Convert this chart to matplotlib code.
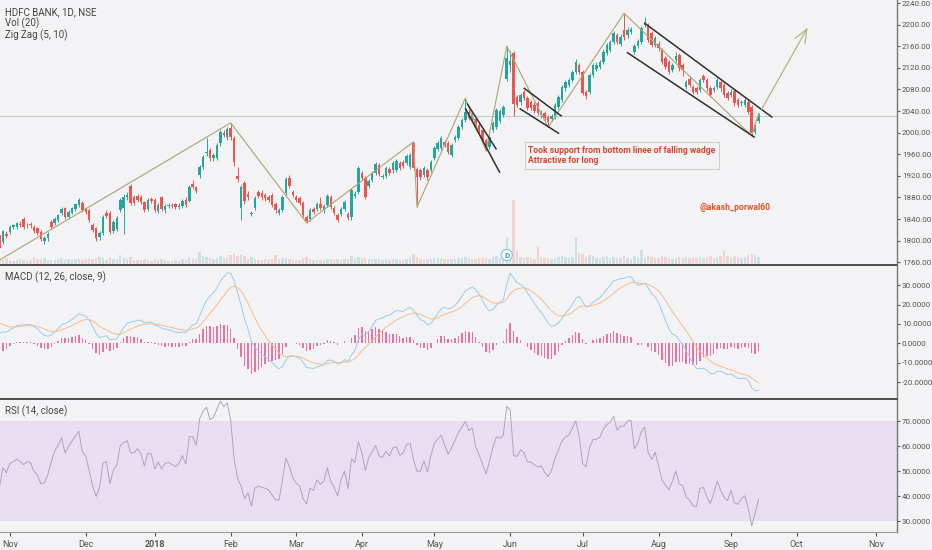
import numpy as np
import pandas as pd
import matplotlib
matplotlib.use('Agg')
import matplotlib.pyplot as plt

# ---------------- data ----------------
first_day = '2017-10-27'
holidays = ['2017-12-25', '2018-01-26', '2018-02-13', '2018-03-02', '2018-03-29',
            '2018-03-30', '2018-05-01', '2018-08-15', '2018-08-22', '2018-09-13']

opens = [1810, 1798, 1813, 1816, 1825, 1825, 1830, 1840, 1828, 1830,
         1825, 1823, 1816, 1800, 1805, 1834, 1833, 1838, 1851, 1860,
         1844, 1852, 1858, 1866, 1870, 1860, 1856, 1829, 1823, 1807,
         1814, 1851, 1851, 1818, 1822, 1857, 1860, 1880, 1901, 1881,
         1883, 1881, 1871, 1859, 1877, 1876, 1855, 1880, 1856, 1864,
         1866, 1867, 1863, 1864, 1876, 1874, 1905, 1899, 1921, 1936,
         1962, 1968, 1953, 1953, 1980, 2000, 1991, 2008, 1990, 1919,
         1860, 1906, 1886, 1849, 1860, 1890, 1888, 1884, 1880, 1885,
         1868, 1851, 1857, 1888, 1916, 1890, 1880, 1878, 1870, 1843,
         1840, 1858, 1859, 1868, 1856, 1866, 1880, 1860, 1847, 1849,
         1858, 1849, 1843, 1882, 1890, 1925, 1916, 1901, 1913, 1925,
         1940, 1918, 1920, 1932, 1930, 1931, 1944, 1946, 1944, 1936,
         1981, 1933, 1930, 1921, 1930, 1931, 1953, 1970, 1971, 1983,
         1981, 1959, 1986, 1990, 2010, 2023, 2038, 2027, 2025, 2014,
         2005, 1986, 1973, 2005, 2010, 2022, 2033, 2100, 2125, 2147,
         2066, 2056, 2075, 2064, 2056, 2052, 2054, 2032, 2036, 2029,
         2025, 2030, 2047, 2060, 2082, 2088, 2097, 2112, 2125, 2112,
         2075, 2076, 2107, 2118, 2122, 2131, 2147, 2153, 2168, 2181,
         2165, 2190, 2180, 2187, 2150, 2160, 2168, 2200, 2199, 2184,
         2162, 2165, 2153, 2138, 2131, 2116, 2134, 2144, 2125, 2085,
         2100, 2085, 2082, 2079, 2104, 2097, 2082, 2079, 2085, 2094,
         2088, 2073, 2070, 2077, 2060, 2054, 2051, 2057, 2048, 2002,
         2022]
closes = [1787, 1817, 1809, 1825, 1828, 1832, 1829, 1825, 1829, 1828,
          1818, 1814, 1803, 1804, 1812, 1826, 1840, 1847, 1858, 1844,
          1853, 1860, 1867, 1875, 1857, 1853, 1838, 1820, 1805, 1814,
          1844, 1846, 1816, 1835, 1842, 1875, 1880, 1884, 1870, 1870,
          1876, 1871, 1857, 1875, 1874, 1857, 1866, 1858, 1865, 1866,
          1864, 1862, 1865, 1873, 1866, 1899, 1899, 1892, 1936, 1954,
          1964, 1953, 1958, 1977, 2001, 1996, 2007, 1991, 1945, 1914,
          1899, 1873, 1881, 1851, 1879, 1882, 1880, 1878, 1875, 1866,
          1857, 1857, 1881, 1914, 1902, 1884, 1875, 1870, 1847, 1837,
          1857, 1853, 1867, 1860, 1864, 1882, 1862, 1852, 1838, 1859,
          1871, 1842, 1893, 1887, 1934, 1916, 1881, 1910, 1925, 1942,
          1923, 1920, 1934, 1926, 1944, 1947, 1934, 1938, 1956, 1958,
          1935, 1917, 1917, 1934, 1917, 1945, 1971, 1981, 1990, 1977,
          1964, 1977, 1992, 2010, 2023, 2038, 2027, 2033, 2010, 1999,
          1986, 1971, 1992, 2018, 2042, 2040, 2047, 2138, 2133, 2053,
          2051, 2069, 2064, 2045, 2045, 2040, 2036, 2038, 2027, 2020,
          2030, 2051, 2066, 2084, 2093, 2097, 2112, 2130, 2112, 2073,
          2068, 2107, 2125, 2126, 2131, 2150, 2162, 2168, 2184, 2168,
          2178, 2178, 2190, 2191, 2160, 2170, 2194, 2204, 2172, 2162,
          2175, 2156, 2131, 2122, 2113, 2125, 2141, 2119, 2116, 2094,
          2088, 2076, 2075, 2097, 2098, 2082, 2070, 2082, 2097, 2082,
          2070, 2064, 2076, 2054, 2051, 2057, 2060, 2039, 1999, 2014,
          2030]
highs = [1815, 1820, 1818, 1828, 1831, 1835, 1836, 1844, 1833, 1834,
         1828, 1826, 1819, 1808, 1816, 1838, 1843, 1850, 1862, 1863,
         1856, 1863, 1870, 1879, 1874, 1863, 1859, 1832, 1826, 1818,
         1847, 1856, 1855, 1839, 1846, 1879, 1886, 1890, 1905, 1885,
         1887, 1884, 1874, 1879, 1881, 1879, 1869, 1883, 1868, 1870,
         1870, 1870, 1869, 1877, 1880, 1903, 1912, 1902, 1940, 1958,
         1990, 1972, 1962, 1981, 2005, 2004, 2011, 2018, 1993, 1936,
         1903, 1910, 1891, 1855, 1883, 1894, 1893, 1888, 1884, 1889,
         1872, 1861, 1885, 1918, 1922, 1894, 1884, 1882, 1874, 1847,
         1861, 1862, 1871, 1880, 1868, 1886, 1884, 1864, 1851, 1863,
         1875, 1853, 1897, 1891, 1938, 1929, 1920, 1914, 1929, 1946,
         1944, 1924, 1938, 1936, 1948, 1951, 1948, 1950, 1960, 1962,
         1983, 1937, 1934, 1938, 1934, 1949, 1975, 1985, 1994, 1987,
         1985, 1981, 1996, 2014, 2027, 2064, 2044, 2037, 2029, 2018,
         2009, 1990, 1996, 2022, 2046, 2044, 2051, 2160, 2152, 2152,
         2070, 2073, 2079, 2068, 2060, 2056, 2058, 2042, 2040, 2033,
         2034, 2055, 2070, 2088, 2097, 2101, 2116, 2136, 2129, 2116,
         2079, 2111, 2129, 2130, 2135, 2154, 2166, 2172, 2188, 2185,
         2182, 2221, 2195, 2196, 2164, 2174, 2198, 2215, 2203, 2188,
         2179, 2169, 2157, 2142, 2135, 2129, 2150, 2148, 2129, 2098,
         2104, 2089, 2086, 2101, 2108, 2101, 2086, 2086, 2101, 2098,
         2092, 2077, 2080, 2081, 2064, 2061, 2064, 2061, 2052, 2018,
         2036]
lows = [1780, 1794, 1805, 1812, 1822, 1821, 1825, 1822, 1824, 1823,
        1815, 1810, 1800, 1794, 1800, 1822, 1829, 1835, 1848, 1840,
        1840, 1849, 1855, 1862, 1853, 1849, 1835, 1816, 1800, 1802,
        1811, 1842, 1812, 1814, 1818, 1853, 1812, 1876, 1866, 1866,
        1872, 1867, 1853, 1855, 1870, 1853, 1851, 1855, 1852, 1860,
        1860, 1858, 1859, 1861, 1862, 1871, 1895, 1888, 1916, 1932,
        1956, 1948, 1948, 1949, 1976, 1991, 1987, 1986, 1938, 1909,
        1838, 1868, 1876, 1845, 1856, 1878, 1876, 1874, 1871, 1862,
        1852, 1847, 1853, 1884, 1898, 1880, 1871, 1866, 1843, 1833,
        1836, 1849, 1855, 1856, 1852, 1862, 1858, 1848, 1834, 1845,
        1854, 1838, 1839, 1878, 1886, 1912, 1877, 1897, 1909, 1921,
        1919, 1914, 1916, 1922, 1926, 1927, 1930, 1934, 1940, 1932,
        1931, 1862, 1913, 1917, 1913, 1927, 1949, 1966, 1967, 1973,
        1960, 1955, 1982, 1986, 2006, 2019, 2023, 2023, 2006, 1995,
        1982, 1966, 1969, 2001, 2006, 2018, 2029, 2096, 2112, 2030,
        2047, 2052, 2060, 2041, 2041, 2036, 2032, 2028, 2023, 2010,
        2021, 2026, 2043, 2056, 2078, 2084, 2093, 2108, 2108, 2069,
        2062, 2072, 2103, 2114, 2118, 2127, 2143, 2149, 2164, 2164,
        2161, 2172, 2176, 2183, 2146, 2156, 2164, 2196, 2168, 2158,
        2158, 2152, 2127, 2118, 2109, 2112, 2130, 2115, 2105, 2081,
        2084, 2072, 2071, 2075, 2094, 2078, 2066, 2075, 2081, 2078,
        2066, 2060, 2066, 2050, 2047, 2050, 2047, 2035, 1994, 1998,
        2018]
# volume, million shares
volumes = [2.4, 2.0, 2.8, 2.2, 1.6, 2.0, 2.6, 2.1, 1.7, 2.0,
           3.4, 2.3, 2.6, 3.0, 2.1, 1.9, 2.2, 2.5, 2.9, 2.0,
           2.3, 1.8, 2.6, 2.4, 2.0, 2.7, 2.9, 2.5, 3.1, 3.6,
           3.2, 2.2, 2.8, 2.4, 2.6, 4.5, 3.0, 2.4, 3.3, 2.2,
           1.9, 2.1, 2.6, 2.0, 1.7, 2.3, 2.0, 2.4, 1.8, 1.6,
           1.5, 1.9, 1.7, 2.4, 2.2, 3.4, 2.9, 2.6, 6.0, 4.2,
           3.6, 2.8, 2.5, 3.0, 3.9, 2.9, 3.1, 4.4, 5.2, 4.0,
           4.6, 3.8, 2.5, 3.4, 2.7, 2.2, 2.0, 2.3, 2.1, 2.6,
           4.6, 2.4, 2.8, 3.1, 2.5, 2.2, 2.0, 2.1, 2.9, 3.3,
           2.7, 2.0, 2.2, 1.9, 2.1, 2.6, 2.3, 2.0, 2.4, 2.2,
           2.5, 2.3, 4.1, 2.8, 3.6, 2.9, 3.2, 2.5, 2.4, 2.7,
           2.3, 2.1, 2.4, 2.0, 2.6, 2.3, 2.1, 2.2, 2.5, 3.0,
           5.0, 3.4, 2.6, 2.2, 2.4, 2.6, 3.1, 2.8, 2.9, 2.3,
           2.6, 2.4, 2.7, 3.0, 3.2, 3.6, 2.8, 2.4, 2.6, 2.9,
           3.1, 3.0, 2.6, 3.3, 3.8, 3.2, 4.0, 13.5, 5.0, 32.0,
           6.5, 3.6, 3.0, 3.4, 2.9, 2.7, 8.5, 3.0, 2.8, 3.1,
           2.6, 3.2, 3.5, 4.0, 3.6, 3.0, 3.4, 13.0, 5.5, 4.8,
           3.6, 4.4, 3.8, 3.0, 2.8, 3.5, 3.9, 3.2, 3.4, 3.0,
           2.8, 4.2, 3.1, 2.6, 4.0, 3.3, 7.0, 3.5, 4.1, 3.6,
           3.2, 3.0, 3.8, 3.4, 3.1, 2.7, 2.9, 3.6, 3.0, 3.3,
           2.8, 2.9, 3.2, 3.5, 3.0, 3.3, 3.9, 3.1, 3.4, 4.2,
           7.0, 3.8, 3.3, 4.1, 3.6, 3.0, 3.4, 4.4, 5.0, 4.6,
           3.5]

# zig zag (5, 10) pivots: bar number, price
zz_bars = [0, 67, 89, 120, 121, 135, 141, 147, 159, 181, 218, 220]
zz_prices = [1764, 2018, 1833, 1983, 1862, 2064, 1966, 2160, 2010, 2221, 1994, 2036]

# hand drawn lines: (bar, price) -> (bar, price)
wedge_lines = [((135.6, 2053), (143.9, 1970)),
               ((135.1, 2044), (144.9, 1927)),
               ((152.1, 2082), (162.8, 2031)),
               ((150.9, 2044), (162.0, 1999)),
               ((187.1, 2202), (223.8, 2029)),
               ((182.0, 2148), (218.7, 1992))]
target_arrow = ((220.4, 2038), (234.6, 2199))
dividend_day = '2018-05-31'

# indicator state at the left edge of the chart
ema_fast_start, ema_slow_start, signal_start = 1805.0, 1798.0, 12.0
rsi_prev_close, rsi_gain_start, rsi_loss_start = 1800.0, 7.0, 8.0

note_text = 'Took support from bottom linee of falling wadge\nAttractive for long'
signature = '@akash_porwal60'

# ---------------- helpers ----------------
def ema(values, n, start):
    k = 2.0 / (n + 1)
    out, prev = [], start
    for v in values:
        prev = prev + k * (v - prev)
        out.append(prev)
    return np.array(out)

def rsi(values, n, prev_close, gain, loss):
    out = []
    for v in values:
        ch = v - prev_close
        prev_close = v
        gain = (gain * (n - 1) + max(ch, 0)) / n
        loss = (loss * (n - 1) + max(-ch, 0)) / n
        out.append(100 - 100 / (1 + gain / loss))
    return np.array(out)

# ---------------- figure ----------------
plt.rcParams['font.family'] = ['Liberation Sans Narrow', 'Roboto', 'DejaVu Sans']
BG = '#f3f3f5'
UP, DOWN = '#26a69a', '#ef5350'
TXT = '#555555'

o = np.array(opens, float)
c = np.array(closes, float)
h = np.array(highs, float)
l = np.array(lows, float)
v = np.array(volumes, float)
x = np.arange(len(c))
up = c >= o
col = np.where(up, UP, DOWN)

days = pd.bdate_range(first_day, '2018-12-31')
days = days[~days.isin(pd.to_datetime(holidays))]

fig = plt.figure(figsize=(9.32, 5.5), dpi=100, facecolor=BG)
W = 897 / 932
ax = fig.add_axes([0, 286 / 550, W, 264 / 550], facecolor=BG)
axm = fig.add_axes([0, 152 / 550, W, 133 / 550], facecolor=BG, sharex=ax)
axr = fig.add_axes([0, 18 / 550, W, 133 / 550], facecolor=BG, sharex=ax)

# volume underlay
axv = ax.twinx()
axv.set_zorder(0)
ax.set_zorder(1)
ax.patch.set_visible(False)
axv.set_facecolor(BG)
axv.bar(x, v, width=0.7, color=col, alpha=0.2, linewidth=0)
axv.set_ylim(0, 132)
axv.set_yticks([])
for s in axv.spines.values():
    s.set_visible(False)

# candles
ax.vlines(x, l, h, colors=col, linewidth=0.7, zorder=3)
body = np.maximum(np.abs(c - o), 0.9)
ax.bar(x, body, bottom=np.minimum(o, c), width=0.72, color=col, linewidth=0, zorder=4)

ax.axhline(c[-1], color='#cbcbcb', linewidth=0.8, zorder=1)
ax.plot(zz_bars, zz_prices, color='#aea879', linewidth=0.85, zorder=5)
for (x0, y0), (x1, y1) in wedge_lines:
    ax.plot([x0, x1], [y0, y1], color='#2f2f2f', linewidth=1.1, zorder=6)
(ax0, ay0), (ax1, ay1) = target_arrow
ax.annotate('', xy=(ax1, ay1), xytext=(ax0, ay0),
            arrowprops=dict(arrowstyle='->,head_length=1.0,head_width=0.4',
                            color='#a3bb74', linewidth=0.85), zorder=6)

ax.text(153.2, 1976, note_text, color='#d9462d', fontsize=6.2, fontweight='bold',
        va='top', ha='left', linespacing=1.25, zorder=7,
        bbox=dict(boxstyle='square,pad=0.4', fc=BG, ec='#cfcfcf', lw=0.8))
ax.text(213.2, 1862, signature, color='#e0552e', fontsize=6.2, fontweight='bold',
        va='center', ha='center', zorder=7)

div_i = int(np.flatnonzero(days == pd.Timestamp(dividend_day))[0])
ax.annotate('D', xy=(div_i, 0.034), xycoords=('data', 'axes fraction'),
            ha='center', va='center', fontsize=6, fontweight='bold', color='#3b8fd9',
            bbox=dict(boxstyle='circle,pad=0.25', fc='#fafcff', ec='#8cc2ee', lw=0.9),
            zorder=8)

hdr = ['HDFC BANK, 1D, NSE', 'Vol (20)', 'Zig Zag (5, 10)']
for i, t in enumerate(hdr):
    ax.text(0.006, 1 - (12 + 11.5 * i) / 264, t, transform=ax.transAxes,
            fontsize=7, color='#444444', va='center')

ax.set_ylim(1756.7, 2245.6)
ax.set_yticks(np.arange(1760, 2241, 40))
ax.yaxis.set_major_formatter(matplotlib.ticker.FormatStrFormatter('%.2f'))

# MACD
macd = ema(c, 12, ema_fast_start) - ema(c, 26, ema_slow_start)
sig = ema(macd, 9, signal_start)
axm.bar(x, macd - sig, width=0.42, color='#ea5c95', alpha=0.85, linewidth=0)
axm.plot(x, macd, color='#9ccbec', linewidth=0.7)
axm.plot(x, sig, color='#f6bd8e', linewidth=0.7)
axm.set_ylim(-28.2, 40.4)
axm.set_yticks(np.arange(-20, 31, 10))
axm.yaxis.set_major_formatter(matplotlib.ticker.FormatStrFormatter('%.4f'))
axm.text(0.006, 1 - 12 / 133, 'MACD (12, 26, close, 9)', transform=axm.transAxes,
         fontsize=7, color='#444444', va='center')

# RSI
r = rsi(c, 14, rsi_prev_close, rsi_gain_start, rsi_loss_start)
axr.axhspan(30, 70, color='#e8def2', linewidth=0)
axr.plot(x, r, color='#ab9fbd', linewidth=0.65)
axr.set_ylim(25.7, 78.9)
axr.set_yticks(np.arange(30, 71, 10))
axr.yaxis.set_major_formatter(matplotlib.ticker.FormatStrFormatter('%.4f'))
axr.text(0.006, 1 - 12 / 133, 'RSI (14, close)', transform=axr.transAxes,
         fontsize=7, color='#444444', va='center')

# common styling
ax.set_xlim(0.145, 260.1)
starts = np.flatnonzero(np.r_[False, days.month[1:] != days.month[:-1]])
starts = starts[starts < 260]
labels = ['2018' if (days[i].month == 1) else days[i].strftime('%b') for i in starts]
axr.set_xticks(starts)
axr.set_xticklabels(labels)
for lab in axr.get_xticklabels():
    if lab.get_text() == '2018':
        lab.set_fontweight('bold')

for a in (ax, axm, axr):
    a.yaxis.tick_right()
    a.tick_params(axis='y', labelsize=5.8, colors=TXT, length=2.5, width=0.8, pad=1)
    a.tick_params(axis='x', labelsize=6.5, colors=TXT, length=3, width=0.8, pad=3)
    a.spines['left'].set_visible(False)
    a.spines['right'].set_color('#777777')
    a.spines['right'].set_linewidth(1.0)
    a.spines['top'].set_color('#4a4a4a')
    a.spines['top'].set_linewidth(1.4)
    a.spines['bottom'].set_visible(False)
ax.spines['top'].set_visible(False)
axr.spines['bottom'].set_visible(True)
axr.spines['bottom'].set_color('#999999')
ax.tick_params(axis='x', labelbottom=False, length=0)
axm.tick_params(axis='x', labelbottom=False, length=0)

fig.savefig('out.png', dpi=100, facecolor=BG)
